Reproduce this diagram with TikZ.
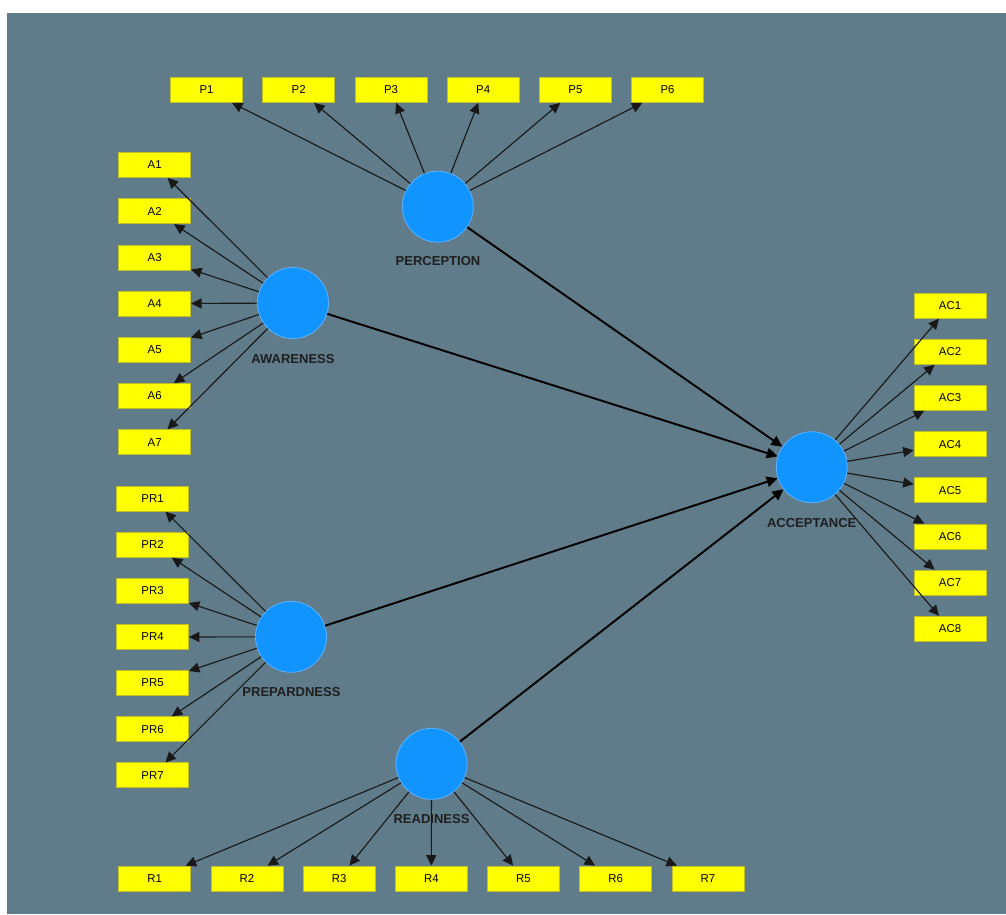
\documentclass[tikz,border=0pt]{standalone}
\usepackage{fontspec}
\setmainfont{Liberation Sans}
\usetikzlibrary{arrows.meta}

\definecolor{bgslate}{RGB}{96,123,137}
\definecolor{latblue}{RGB}{18,148,255}
\definecolor{latedge}{RGB}{90,175,255}
\definecolor{indfill}{RGB}{255,255,0}
\definecolor{indedge}{RGB}{190,190,40}

\begin{document}
\begin{tikzpicture}[
  x=0.02cm, y=-0.02cm,
  lat/.style={draw=latedge, line width=0.5pt, circle, fill=latblue,
              minimum size=1.42cm, inner sep=0pt},
  lattext/.style={font=\fontsize{7.4}{8}\selectfont\bfseries, text=black!88,
                  inner sep=0pt},
  ind/.style={draw=indedge, line width=0.4pt, rectangle, fill=indfill,
              minimum width=1.44cm, minimum height=0.5cm, inner sep=0pt,
              font=\fontsize{6.5}{7}\selectfont},
  load/.style={line width=0.65pt, draw=black!90,
               -{Triangle[length=0.21cm, width=0.2cm]}},
  path/.style={line width=1.1pt, draw=black,
               -{Triangle[length=0.22cm, width=0.21cm]}},
]
\useasboundingbox (0,0) rectangle (1006,914);
\fill[white] (0,0) rectangle (1006,914);
\fill[bgslate] (7,13) rectangle (1006,914);

% latent variables
\node[lat] (per) at (437.8,206.7) {};
\node[lat] (awa) at (293,303) {};
\node[lat] (pre) at (291,636.8) {};
\node[lat] (acc) at (811.8,467.2) {};
\node[lat] (rea) at (431.5,763.8) {};
\node[lattext] (perl) at (438,261) {PERCEPTION};
\node[lattext] (awal) at (293,359) {AWARENESS};
\node[lattext] (prel) at (291.5,692) {PREPARDNESS};
\node[lattext] (accl) at (811.7,523) {ACCEPTANCE};
\node[lattext] (real) at (431.5,819.5) {READINESS};

% indicators
\node[ind] (P1) at (206.5,90) {P1};
\node[ind] (P2) at (298.7,90) {P2};
\node[ind] (P3) at (391,90) {P3};
\node[ind] (P4) at (483.2,90) {P4};
\node[ind] (P5) at (575.4,90) {P5};
\node[ind] (P6) at (667.6,90) {P6};

\node[ind] (A1) at (154.7,165) {A1};
\node[ind] (A2) at (154.7,211.2) {A2};
\node[ind] (A3) at (154.7,257.4) {A3};
\node[ind] (A4) at (154.7,303.6) {A4};
\node[ind] (A5) at (154.7,349.8) {A5};
\node[ind] (A6) at (154.7,396) {A6};
\node[ind] (A7) at (154.7,442.2) {A7};

\node[ind] (PR1) at (152.5,498.7) {PR1};
\node[ind] (PR2) at (152.5,544.8) {PR2};
\node[ind] (PR3) at (152.5,590.9) {PR3};
\node[ind] (PR4) at (152.5,637) {PR4};
\node[ind] (PR5) at (152.5,683.1) {PR5};
\node[ind] (PR6) at (152.5,729.2) {PR6};
\node[ind] (PR7) at (152.5,775.3) {PR7};

\node[ind] (AC1) at (950,305.8) {AC1};
\node[ind] (AC2) at (950,351.9) {AC2};
\node[ind] (AC3) at (950,398) {AC3};
\node[ind] (AC4) at (950,444.2) {AC4};
\node[ind] (AC5) at (950,490.3) {AC5};
\node[ind] (AC6) at (950,536.4) {AC6};
\node[ind] (AC7) at (950,582.5) {AC7};
\node[ind] (AC8) at (950,628.7) {AC8};

\node[ind] (R1) at (154.7,878.5) {R1};
\node[ind] (R2) at (246.9,878.5) {R2};
\node[ind] (R3) at (339.1,878.5) {R3};
\node[ind] (R4) at (431.3,878.5) {R4};
\node[ind] (R5) at (523.5,878.5) {R5};
\node[ind] (R6) at (615.7,878.5) {R6};
\node[ind] (R7) at (707.9,878.5) {R7};

% outer loadings
\draw[load] (per) -- (P1);
\draw[load] (per) -- (P2);
\draw[load] (per) -- (P3);
\draw[load] (per) -- (P4);
\draw[load] (per) -- (P5);
\draw[load] (per) -- (P6);

\draw[load] (awa) -- (A1);
\draw[load] (awa) -- (A2);
\draw[load] (awa) -- (A3);
\draw[load] (awa) -- (A4);
\draw[load] (awa) -- (A5);
\draw[load] (awa) -- (A6);
\draw[load] (awa) -- (A7);

\draw[load] (pre) -- (PR1);
\draw[load] (pre) -- (PR2);
\draw[load] (pre) -- (PR3);
\draw[load] (pre) -- (PR4);
\draw[load] (pre) -- (PR5);
\draw[load] (pre) -- (PR6);
\draw[load] (pre) -- (PR7);

\draw[load] (acc) -- (AC1);
\draw[load] (acc) -- (AC2);
\draw[load] (acc) -- (AC3);
\draw[load] (acc) -- (AC4);
\draw[load] (acc) -- (AC5);
\draw[load] (acc) -- (AC6);
\draw[load] (acc) -- (AC7);
\draw[load] (acc) -- (AC8);

\draw[load] (rea) -- (R1);
\draw[load] (rea) -- (R2);
\draw[load] (rea) -- (R3);
\draw[load] (rea) -- (R4);
\draw[load] (rea) -- (R5);
\draw[load] (rea) -- (R6);
\draw[load] (rea) -- (R7);

% structural paths
\draw[path] (per) -- (acc);
\draw[path] (awa) -- (acc);
\draw[path] (pre) -- (acc);
\draw[path] (rea) -- (acc);
\end{tikzpicture}
\end{document}
